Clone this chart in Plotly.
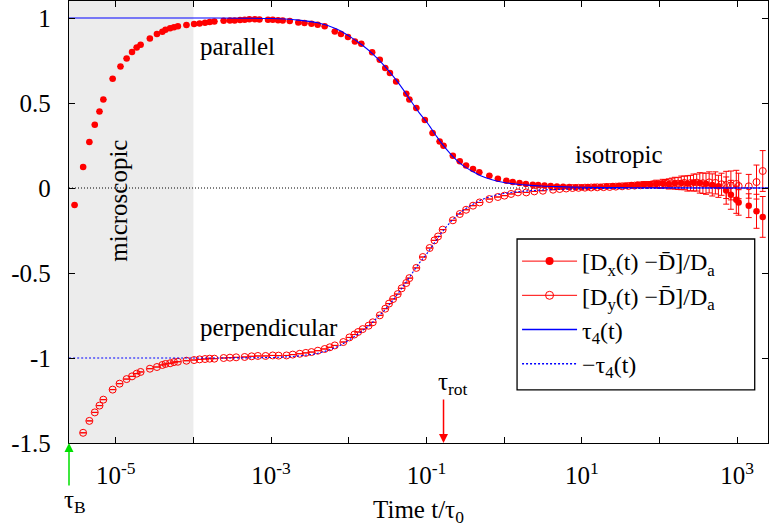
import numpy as np
import plotly.graph_objects as go

# ---------------- data ----------------
# parallel component [Dx(t) - Dbar]/Da (filled circles)
DX_T = [2.95e-6, 3.80e-6, 4.57e-6, 5.37e-6, 6.17e-6, 6.92e-6, 9.12e-6, 1.15e-5, 1.38e-5, 1.62e-5,
        1.86e-5, 2.09e-5, 2.75e-5, 3.39e-5, 3.98e-5, 4.37e-5, 5.01e-5, 5.62e-5, 6.31e-5, 8.13e-5,
        1.02e-4, 1.20e-4, 1.41e-4, 1.62e-4, 1.86e-4, 2.45e-4, 2.95e-4, 3.39e-4, 3.98e-4, 4.57e-4,
        5.25e-4, 6.17e-4, 7.08e-4, 9.12e-4, 1.05e-3, 1.23e-3, 1.41e-3, 1.74e-3, 2.24e-3, 2.69e-3,
        3.31e-3, 3.98e-3, 4.90e-3, 6.61e-3, 7.94e-3, 9.77e-3, 1.20e-2, 1.45e-2, 2.00e-2, 2.51e-2,
        2.95e-2, 3.39e-2, 4.07e-2, 5.50e-2, 6.03e-2, 7.41e-2, 9.55e-2, 0.120, 0.148, 0.166,
        0.219, 0.269, 0.324, 0.398, 0.479, 0.646, 0.832, 1.07, 1.29, 1.58,
        1.91, 2.34, 2.75, 3.31, 3.98, 4.79, 5.75, 6.92, 8.32, 10.0,
        12.0, 14.5, 17.4, 20.9]
DX_V = [-0.10, 0.124, 0.27, 0.372, 0.45, 0.52, 0.643, 0.715, 0.762, 0.80,
        0.827, 0.843, 0.88, 0.906, 0.919, 0.931, 0.939, 0.945, 0.951, 0.959,
        0.965, 0.968, 0.972, 0.976, 0.980, 0.984, 0.986, 0.986, 0.988, 0.990,
        0.992, 0.992, 0.991, 0.990, 0.989, 0.987, 0.986, 0.982, 0.974, 0.970,
        0.966, 0.960, 0.951, 0.921, 0.906, 0.888, 0.862, 0.849, 0.798, 0.755,
        0.706, 0.676, 0.627, 0.555, 0.520, 0.470, 0.400, 0.324, 0.274, 0.249,
        0.190, 0.157, 0.133, 0.112, 0.092, 0.072, 0.055, 0.043, 0.035, 0.029,
        0.023, 0.019, 0.017, 0.014, 0.012, 0.009, 0.007, 0.006, 0.005, 0.005,
        0.006, 0.007, 0.008, 0.010]
# long-time part with visible error bars
DX_T_LATE = [25.1, 30.2, 36.3, 43.7, 52.5, 63.1, 75.9, 91.2, 110, 132,
             158, 191, 229, 275, 331, 398, 479, 575, 724, 832,
             977, 1047, 1413, 1778, 2138]
DX_V_LATE = [0.012, 0.013, 0.015, 0.017, 0.020, 0.022, 0.020, 0.024, 0.026, 0.024,
             0.028, 0.030, 0.027, 0.032, 0.030, 0.025, 0.018, 0.010, -0.015, -0.040,
             -0.069, -0.085, -0.104, -0.137, -0.170]
DX_E_LATE = [0.005, 0.006, 0.008, 0.010, 0.012, 0.015, 0.018, 0.022, 0.025, 0.030,
             0.035, 0.040, 0.045, 0.050, 0.060, 0.062, 0.065, 0.065, 0.080, 0.085,
             0.080, 0.075, 0.070, 0.100, 0.120]

# perpendicular component [Dy(t) - Dbar]/Da (open circles)
DY_T = [3.80e-6, 4.57e-6, 5.37e-6, 6.17e-6, 6.92e-6, 9.12e-6, 1.12e-5, 1.38e-5, 1.62e-5, 1.86e-5,
        2.09e-5, 2.75e-5, 3.39e-5, 3.98e-5, 4.37e-5, 5.01e-5, 5.62e-5, 6.31e-5, 8.13e-5, 1.02e-4,
        1.20e-4, 1.41e-4, 1.62e-4, 1.86e-4, 2.45e-4, 2.95e-4, 3.55e-4, 4.57e-4, 5.62e-4, 6.76e-4,
        8.5e-4, 1.05e-3, 1.25e-3, 1.58e-3, 1.9e-3, 2.34e-3, 2.8e-3, 3.31e-3, 4.0e-3, 4.90e-3,
        5.7e-3, 6.61e-3, 8.51e-3, 1.02e-2, 1.18e-2, 1.32e-2, 1.51e-2, 1.8e-2, 2.04e-2, 2.51e-2,
        2.95e-2, 3.3e-2, 3.72e-2, 4.27e-2, 4.8e-2, 5.50e-2, 6.03e-2, 7.41e-2, 9.0e-2, 0.110,
        0.127, 0.141, 0.162, 0.219, 0.269, 0.324, 0.398, 0.484, 0.646, 0.832,
        1.01, 1.23, 1.51, 1.93, 2.45, 3.16, 4.27, 5.2, 6.3, 7.6,
        9.1, 11.0, 13.2, 15.8, 19.1, 22.9]
DY_V = [-1.44, -1.37, -1.32, -1.28, -1.245, -1.186, -1.151, -1.124, -1.108, -1.092,
        -1.082, -1.063, -1.053, -1.041, -1.035, -1.031, -1.024, -1.022, -1.016, -1.012,
        -1.008, -1.006, -1.004, -1.004, -1.000, -0.998, -0.996, -0.994, -0.990, -0.988,
        -0.988, -0.985, -0.986, -0.985, -0.980, -0.975, -0.970, -0.965, -0.957, -0.947,
        -0.937, -0.926, -0.906, -0.879, -0.862, -0.847, -0.830, -0.810, -0.790, -0.749,
        -0.710, -0.680, -0.653, -0.624, -0.590, -0.559, -0.530, -0.470, -0.406, -0.353,
        -0.308, -0.285, -0.245, -0.190, -0.153, -0.128, -0.104, -0.085, -0.065, -0.053,
        -0.045, -0.035, -0.026, -0.026, -0.020, -0.016, -0.010, -0.006, -0.003, 0.000,
        0.001, 0.002, 0.003, 0.004, 0.005, 0.006]
DY_T_LATE = [27.5, 33.1, 39.8, 47.9, 57.5, 69.2, 83.2, 100, 120, 145,
             174, 209, 251, 302, 363, 437, 525, 631, 724, 832,
             977, 1047, 1413, 1778, 2138]
DY_V_LATE = [0.008, 0.010, 0.012, 0.014, 0.016, 0.018, 0.022, 0.020, 0.025, 0.028,
             0.026, 0.030, 0.029, 0.032, 0.028, 0.033, 0.030, 0.022, 0.018, 0.015,
             0.024, 0.012, 0.010, 0.035, 0.100]
DY_E_LATE = [0.005, 0.006, 0.008, 0.010, 0.012, 0.015, 0.018, 0.022, 0.025, 0.030,
             0.035, 0.040, 0.045, 0.050, 0.060, 0.062, 0.065, 0.065, 0.080, 0.085,
             0.080, 0.075, 0.070, 0.100, 0.120]

# tau_4(t) curve
TAU4_T = [2.5e-6, 1e-4, 1e-3, 2e-3, 4e-3, 7e-3, 1e-2, 1.5e-2, 2e-2, 3e-2,
          4e-2, 5e-2, 6e-2, 8e-2, 0.1, 0.13, 0.16, 0.2, 0.25, 0.3,
          0.4, 0.5, 0.7, 1.0, 1.5, 2.0, 3.0, 5.0, 10.0, 30.0,
          100.0, 2.5e3]
TAU4_V = [1.0, 1.0, 0.997, 0.99, 0.972, 0.935, 0.895, 0.84, 0.792, 0.71,
          0.64, 0.58, 0.527, 0.445, 0.39, 0.315, 0.258, 0.205, 0.16, 0.13,
          0.095, 0.072, 0.048, 0.032, 0.022, 0.017, 0.012, 0.008, 0.004, 0.002,
          0.0005, 0.0]

X_RANGE = [2.5e-6, 2.5e3]
Y_RANGE = [-1.5, 1.1]
MICRO_END = 1e-4
TAU_B = 2.5e-6
TAU_ROT = 0.166

X_TICKS = [1e-5, 1e-4, 1e-3, 1e-2, 1e-1, 1e0, 1e1, 1e2, 1e3]
X_TICKTEXT = ["10<sup>-5</sup>", "", "10<sup>-3</sup>", "", "10<sup>-1</sup>", "",
              "10<sup>1</sup>", "", "10<sup>3</sup>"]
Y_TICKS = [-1.5, -1, -0.5, 0, 0.5, 1]
Y_TICKTEXT = ["-1.5", "-1", "-0.5", "0", "0.5", "1"]

NAMES = ["[D<sub>x</sub>(t) \u2212D\u0304]/D<sub>a</sub>",
         "[D<sub>y</sub>(t) \u2212D\u0304]/D<sub>a</sub>",
         "\u03c4<sub>4</sub>(t)",
         "\u2212\u03c4<sub>4</sub>(t)"]

FONT = "Liberation Serif, Times New Roman, Times, Nimbus Roman, DejaVu Serif, serif"
RED = "#ff0000"
BLUE = "#0000ff"
GREEN = "#00e000"

# ---------------- figure ----------------
fig = go.Figure()

dx_t = DX_T + DX_T_LATE
dx_v = DX_V + DX_V_LATE
dx_e = [0.0] * len(DX_T) + DX_E_LATE
dy_t = DY_T + DY_T_LATE
dy_v = DY_V + DY_V_LATE
dy_e = [0.0] * len(DY_T) + DY_E_LATE

fig.add_trace(go.Scatter(
    x=dx_t, y=dx_v, mode="markers", showlegend=False,
    marker=dict(symbol="circle", size=6.5, color=RED, line=dict(width=0)),
    error_y=dict(type="data", array=dx_e, color=RED, thickness=1, width=3),
))
fig.add_trace(go.Scatter(
    x=dy_t, y=dy_v, mode="markers", showlegend=False,
    marker=dict(symbol="circle-open", size=7, color=RED, line=dict(width=1, color=RED)),
    error_y=dict(type="data", array=dy_e, color=RED, thickness=1, width=3),
))
fig.add_trace(go.Scatter(
    x=TAU4_T, y=TAU4_V, mode="lines", showlegend=False,
    line=dict(color=BLUE, width=1.1, shape="spline"),
))
fig.add_trace(go.Scatter(
    x=TAU4_T, y=[-v for v in TAU4_V], mode="lines", showlegend=False,
    line=dict(color=BLUE, width=1.1, dash="2px,2px", shape="spline"),
))

# legend entries
fig.add_trace(go.Scatter(x=[None], y=[None], mode="lines+markers", name=NAMES[0],
                         marker=dict(symbol="circle", size=8, color=RED),
                         line=dict(color=RED, width=1)))
fig.add_trace(go.Scatter(x=[None], y=[None], mode="lines+markers", name=NAMES[1],
                         marker=dict(symbol="circle-open", size=8, color=RED, line=dict(width=1)),
                         line=dict(color=RED, width=1)))
fig.add_trace(go.Scatter(x=[None], y=[None], mode="lines", name=NAMES[2],
                         line=dict(color=BLUE, width=1.4)))
fig.add_trace(go.Scatter(x=[None], y=[None], mode="lines", name=NAMES[3],
                         line=dict(color=BLUE, width=1.4, dash="2px,2px")))

# shading of the microscopic regime and zero line
fig.add_shape(type="rect", xref="x", yref="y", x0=X_RANGE[0], x1=MICRO_END,
              y0=Y_RANGE[0], y1=Y_RANGE[1], fillcolor="#ececec",
              line=dict(width=0), layer="below")
fig.add_shape(type="line", xref="x", yref="y", x0=X_RANGE[0], x1=X_RANGE[1], y0=0, y1=0,
              line=dict(color="black", width=1, dash="1px,2px"), layer="below")
# legend frame
fig.add_shape(type="rect", xref="paper", yref="paper", x0=0.641, x1=0.981, y0=0.120, y1=0.4615,
              fillcolor="white", line=dict(color="black", width=1.3), layer="above")

txt = dict(family=FONT, size=25, color="black")
lx = np.log10
fig.add_annotation(x=lx(1.13e-4), y=0.83, text="parallel", showarrow=False,
                   xanchor="left", yanchor="middle", font=txt)
fig.add_annotation(x=lx(1.13e-4), y=-0.822, text="perpendicular", showarrow=False,
                   xanchor="left", yanchor="middle", font=txt)
fig.add_annotation(x=lx(7.6), y=0.196, text="isotropic", showarrow=False,
                   xanchor="left", yanchor="middle", font=txt)
fig.add_annotation(x=lx(1.1e-5), y=-0.075, text="microscopic", showarrow=False,
                   textangle=-90, xanchor="center", yanchor="middle", font=txt)

# arrows
fig.add_annotation(x=lx(TAU_B), y=Y_RANGE[0], text="", showarrow=True,
                   axref="pixel", ayref="pixel", ax=0, ay=44,
                   arrowhead=2, arrowsize=1.2, arrowwidth=1.5, arrowcolor=GREEN, standoff=0)
fig.add_annotation(x=lx(TAU_B), y=Y_RANGE[0], text="\u03c4<sub>B</sub>", showarrow=False,
                   xanchor="center", yanchor="middle", xshift=6, yshift=-58, font=txt)
fig.add_annotation(x=lx(TAU_ROT), y=Y_RANGE[0], text="", showarrow=True,
                   axref="pixel", ayref="pixel", ax=0, ay=-45,
                   arrowhead=2, arrowsize=1.2, arrowwidth=1.5, arrowcolor=RED, standoff=0)
fig.add_annotation(x=lx(TAU_ROT), y=Y_RANGE[0], text="\u03c4<sub>rot</sub>", showarrow=False,
                   xanchor="center", yanchor="middle", xshift=9, yshift=60, font=txt)

axis_common = dict(showline=True, linecolor="black", linewidth=1.3, mirror="ticks",
                   ticks="inside", ticklen=6, tickcolor="black", tickwidth=1,
                   showgrid=False, zeroline=False,
                   tickfont=dict(family=FONT, size=25, color="black"))

fig.update_layout(
    width=769, height=532,
    margin=dict(l=69, r=1, t=1, b=89),
    paper_bgcolor="white", plot_bgcolor="white",
    font=dict(family=FONT, size=25, color="black"),
    xaxis=dict(type="log", range=[lx(X_RANGE[0]), lx(X_RANGE[1])],
               tickmode="array", tickvals=X_TICKS, ticktext=X_TICKTEXT,
               title=dict(text="Time t/\u03c4<sub>0</sub>", font=dict(family=FONT, size=25),
                          standoff=12),
               ticklabelstandoff=10, **axis_common),
    yaxis=dict(range=Y_RANGE, tickmode="array", tickvals=Y_TICKS, ticktext=Y_TICKTEXT,
               ticklabelstandoff=12, **axis_common),
    legend=dict(x=0.641, y=0.4615, xanchor="left", yanchor="top",
                borderwidth=0, bgcolor="rgba(0,0,0,0)",
                font=dict(family=FONT, size=24, color="black"),
                itemwidth=55, tracegroupgap=0),
    showlegend=True,
)

fig.write_html("out.html")
